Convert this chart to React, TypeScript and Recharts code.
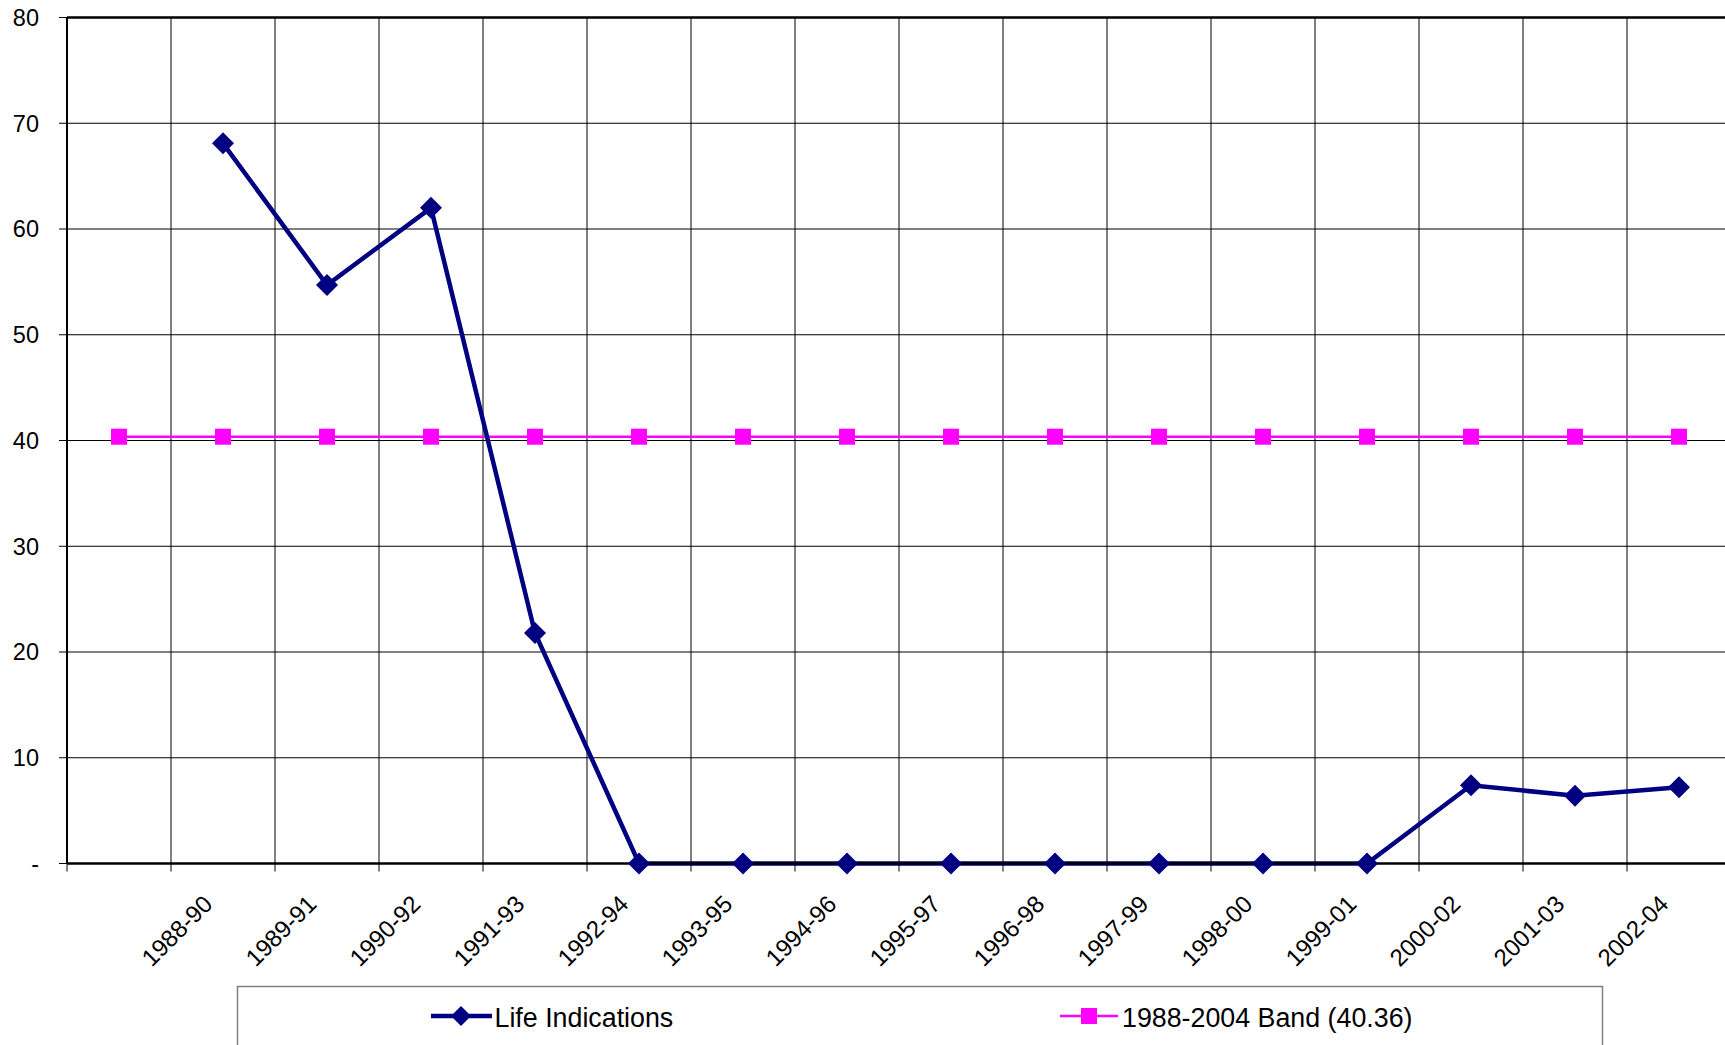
import React from 'react';
import {
  LineChart,
  Line,
  XAxis,
  YAxis,
  CartesianGrid,
  ReferenceLine,
} from 'recharts';

const periods = [
  '',
  '1988-90',
  '1989-91',
  '1990-92',
  '1991-93',
  '1992-94',
  '1993-95',
  '1994-96',
  '1995-97',
  '1996-98',
  '1997-99',
  '1998-00',
  '1999-01',
  '2000-02',
  '2001-03',
  '2002-04',
];

const lifeIndications = [null, 68.1, 54.7, 62.0, 21.8, 0, 0, 0, 0, 0, 0, 0, 0, 7.4, 6.4, 7.2];
const band = [40.36, 40.36, 40.36, 40.36, 40.36, 40.36, 40.36, 40.36, 40.36, 40.36, 40.36, 40.36, 40.36, 40.36, 40.36, 40.36];

const yTicks = [0, 10, 20, 30, 40, 50, 60, 70, 80];

const NAVY = '#000080';
const MAGENTA = '#FF00FF';
const FONT = '"Liberation Sans", Arial, sans-serif';

// x runs over category slots 0..n, points sit mid-slot
const data = periods.map((p, i) => ({
  pos: i + 0.5,
  period: p,
  life: lifeIndications[i],
  band: band[i],
}));
const slotTicks = periods.map((_, i) => i).concat(periods.length);

const CHART_W = 1745;
const CHART_H = 1045;
const Y_AXIS_W = 67;
const MARGIN = { top: 17.5, right: 14, bottom: 0, left: 0 };
const PLOT_W = CHART_W - MARGIN.left - MARGIN.right - Y_AXIS_W;
const HALF_SLOT = PLOT_W / periods.length / 2;

function XTick(props: any) {
  const { x, y, payload } = props;
  const label = periods[payload.value];
  if (!label) return <g />;
  const ax = x + HALF_SLOT - 9;
  const ay = y + 34;
  return (
    <text
      x={ax}
      y={ay}
      textAnchor="end"
      transform={`rotate(-45, ${ax}, ${ay})`}
      fontSize={24}
      fontFamily={FONT}
      fill="#000"
    >
      {label}
    </text>
  );
}

function Diamond(props: any) {
  const { cx, cy, index } = props;
  if (cx == null || cy == null) return <g key={`d${index}`} />;
  const r = 11;
  return (
    <polygon
      key={`d${index}`}
      points={`${cx},${cy - r} ${cx + r},${cy} ${cx},${cy + r} ${cx - r},${cy}`}
      fill={NAVY}
    />
  );
}

function Square(props: any) {
  const { cx, cy, index } = props;
  if (cx == null || cy == null) return <g key={`s${index}`} />;
  const s = 16;
  return <rect key={`s${index}`} x={cx - s / 2} y={cy - s / 2} width={s} height={s} fill={MAGENTA} />;
}

function LegendBox() {
  return (
    <svg
      width={1725}
      height={1045}
      style={{ position: 'absolute', left: 0, top: 0, pointerEvents: 'none' }}
    >
      <rect x={237.5} y={986.5} width={1365} height={80} fill="#fff" stroke="#808080" strokeWidth={1.5} />
      <line x1={431} y1={1016} x2={492} y2={1016} stroke={NAVY} strokeWidth={4.5} />
      <polygon points="461,1006 471,1016 461,1026 451,1016" fill={NAVY} />
      <text x={494.5} y={1027} fontSize={26.8} fontFamily={FONT} fill="#000">
        Life Indications
      </text>
      <line x1={1060} y1={1016} x2={1118} y2={1016} stroke={MAGENTA} strokeWidth={2.5} />
      <rect x={1081} y={1008} width={16} height={16} fill={MAGENTA} />
      <text x={1122} y={1027} fontSize={26.8} fontFamily={FONT} fill="#000">
        1988-2004 Band (40.36)
      </text>
    </svg>
  );
}

export default function App() {
  return (
    <div
      style={{
        position: 'fixed',
        left: 0,
        top: 0,
        width: 1725,
        height: 1045,
        overflow: 'hidden',
        background: '#fff',
      }}
    >
      <LineChart width={CHART_W} height={CHART_H} data={data} margin={MARGIN}>
        <CartesianGrid stroke="#000" strokeWidth={1} />
        <XAxis
          dataKey="pos"
          type="number"
          domain={[0, periods.length]}
          ticks={slotTicks}
          interval={0}
          height={CHART_H - MARGIN.top - 846}
          axisLine={{ stroke: '#000', strokeWidth: 2.5 }}
          tickLine={{ stroke: '#000', strokeWidth: 1 }}
          tickSize={8}
          tickMargin={0}
          tick={<XTick />}
        />
        <YAxis
          domain={[0, 80]}
          ticks={yTicks}
          interval={0}
          width={Y_AXIS_W}
          axisLine={{ stroke: '#000', strokeWidth: 2 }}
          tickLine={{ stroke: '#000', strokeWidth: 1 }}
          tickSize={8}
          tickMargin={20}
          tickFormatter={(v: number) => (v === 0 ? '-' : String(v))}
          tick={{ fontSize: 23.5, fontFamily: FONT, fill: '#000' }}
        />
        <ReferenceLine y={80} stroke="#000" strokeWidth={2.5} />
        <Line
          dataKey="band"
          stroke={MAGENTA}
          strokeWidth={2.5}
          dot={<Square />}
          isAnimationActive={false}
        />
        <Line
          dataKey="life"
          stroke={NAVY}
          strokeWidth={4.5}
          dot={<Diamond />}
          isAnimationActive={false}
        />
      </LineChart>
      <LegendBox />
    </div>
  );
}
